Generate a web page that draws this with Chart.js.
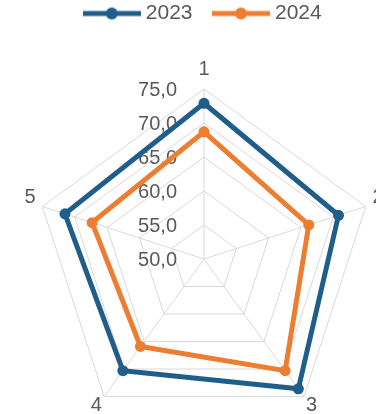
<!DOCTYPE html>
<html>
<head>
<meta charset="utf-8">
<script src="https://cdn.jsdelivr.net/npm/chart.js@4/dist/chart.umd.min.js"></script>
<style>
  html, body { margin: 0; padding: 0; background: #fff; }
  #wrap { width: 376px; height: 414px; }
</style>
</head>
<body>
<div id="wrap"><canvas id="radarChart" width="376" height="414"></canvas></div>
<script>
// data
const eixos = ['1', '2', '3', '4', '5'];
const valores2023 = [72.9, 70.8, 73.6, 70.3, 71.5];
const valores2024 = [68.7, 66.2, 70.3, 65.9, 67.3];
const escalaMin = 50;
const escalaMax = 75;
const escalaPasso = 5;

const azul = '#1f5e8a';
const laranja = '#ed7d31';
const cinzaTexto = '#595959';
const fonte = '"Liberation Sans", Arial, sans-serif';

// legend mark: line with a dot in the middle
function marcaLegenda(cor) {
  const c = document.createElement('canvas');
  c.width = 58;
  c.height = 14;
  const g = c.getContext('2d');
  g.strokeStyle = cor;
  g.lineWidth = 5;
  g.beginPath();
  g.moveTo(0, 7);
  g.lineTo(58, 7);
  g.stroke();
  g.fillStyle = cor;
  g.beginPath();
  g.arc(29, 7, 6, 0, Math.PI * 2);
  g.fill();
  return c;
}
const marcas = [marcaLegenda(azul), marcaLegenda(laranja)];

// tick labels left of the vertical axis, and the point labels
const rotulosPlugin = {
  id: 'rotulos',
  beforeDatasetsDraw(chart) {
    const s = chart.scales.r;
    const ctx = chart.ctx;
    ctx.save();
    ctx.font = '20px ' + fonte;
    ctx.fillStyle = cinzaTexto;
    ctx.textAlign = 'right';
    ctx.textBaseline = 'middle';
    for (let v = escalaMin; v <= escalaMax; v += escalaPasso) {
      const y = s.yCenter - s.getDistanceFromCenterForValue(v) + 1;
      ctx.fillText(v.toFixed(1).replace('.', ','), s.xCenter - 27, y);
    }
    ctx.restore();
  },
  afterDraw(chart) {
    const s = chart.scales.r;
    const ctx = chart.ctx;
    ctx.save();
    ctx.font = '20px ' + fonte;
    ctx.fillStyle = cinzaTexto;
    ctx.textAlign = 'center';
    ctx.textBaseline = 'middle';
    eixos.forEach((lab, i) => {
      const px = s.getPointPosition(i, s.drawingArea + 13);
      const py = s.getPointPosition(i, s.drawingArea + 16);
      ctx.fillText(lab, px.x, py.y - 4);
    });
    ctx.restore();
  }
};

const ctxRadar = document.getElementById('radarChart').getContext('2d');

let RadarChart = new Chart(ctxRadar, {
  type: 'radar',
  data: {
    labels: eixos,
    datasets: [
      {
        label: '2023',
        data: valores2023,
        borderColor: azul,
        backgroundColor: azul,
        borderWidth: 5,
        pointRadius: 5.5,
        pointBackgroundColor: azul,
        pointBorderWidth: 0,
        fill: false,
      }, {
        label: '2024',
        data: valores2024,
        borderColor: laranja,
        backgroundColor: laranja,
        borderWidth: 5,
        pointRadius: 5.5,
        pointBackgroundColor: laranja,
        pointBorderWidth: 0,
        fill: false,
      }
    ]
  },
  options: {
    responsive: false,
    animation: false,
    layout: {
      padding: { top: -22, left: 34 }
    },
    plugins: {
      tooltip: { enabled: false },
      legend: {
        position: 'top',
        labels: {
          usePointStyle: true,
          pointStyleWidth: 47,
          padding: 25,
          color: cinzaTexto,
          font: { size: 21, family: fonte },
          generateLabels: (chart) => {
            const itens = Chart.defaults.plugins.legend.labels.generateLabels(chart);
            itens.forEach((it, i) => { it.pointStyle = marcas[i]; });
            return itens;
          }
        }
      }
    },
    scales: {
      r: {
        min: escalaMin,
        max: escalaMax,
        ticks: { stepSize: escalaPasso, display: false },
        pointLabels: { display: false },
        grid: { color: '#d9d9d9', lineWidth: 1 },
        angleLines: { color: '#d9d9d9', lineWidth: 1 },
        afterFit: (scale) => {
          // the original chart is cropped: put the web where it sits
          scale.xCenter = 204;
          scale.yCenter = 259;
          scale.drawingArea = 170;
        }
      }
    }
  },
  plugins: [rotulosPlugin]
});
</script>
</body>
</html>
